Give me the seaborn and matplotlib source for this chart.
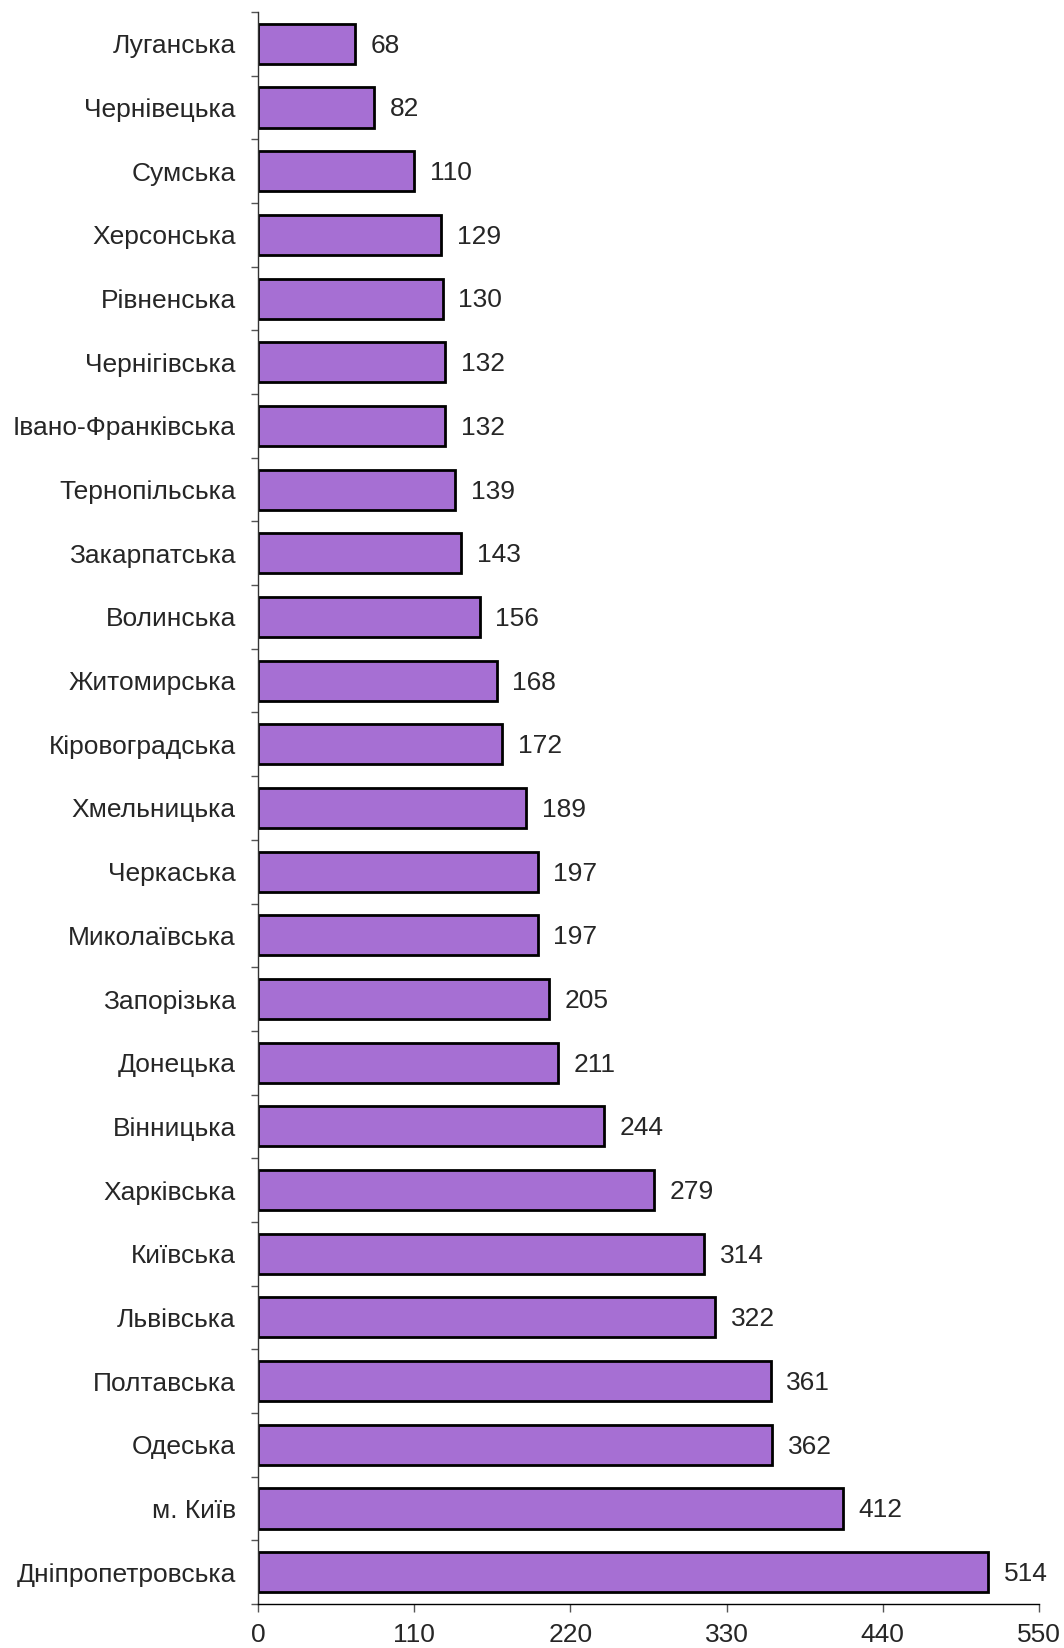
import matplotlib
matplotlib.use("Agg")
import matplotlib.pyplot as plt
from matplotlib.ticker import FixedLocator
import seaborn as sns

# дані (зверху вниз)
regions = [
    "Луганська", "Чернівецька", "Сумська", "Херсонська", "Рівненська",
    "Чернігівська", "Івано-Франківська", "Тернопільська", "Закарпатська",
    "Волинська", "Житомирська", "Кіровоградська", "Хмельницька", "Черкаська",
    "Миколаївська", "Запорізька", "Донецька", "Вінницька", "Харківська",
    "Київська", "Львівська", "Полтавська", "Одеська", "м. Київ",
    "Дніпропетровська",
]
values = [68, 82, 110, 129, 130, 132, 132, 139, 143, 156, 168, 172, 189,
          197, 197, 205, 211, 244, 279, 314, 322, 361, 362, 412, 514]
x_ticks = [0, 110, 220, 330, 440, 550]

sns.set_style("white")
plt.rcParams['font.family'] = ['Liberation Sans', 'DejaVu Sans']

W, H = 1064, 1648
fig, ax = plt.subplots(figsize=(W / 100, H / 100), dpi=100)
fig.subplots_adjust(left=258 / W, right=1039 / W, top=1 - 12 / H, bottom=1 - 1604 / H)

sns.barplot(x=values, y=regions, orient='h', color='#A66FD3', saturation=1,
            edgecolor='black', linewidth=2.0, width=0.63, ax=ax)

# підписи значень
for i, v in enumerate(values):
    ax.text(v + 11, i + 0.03, str(v), va='center', ha='left', fontsize=19)

ax.set_xlim(0, 550)
ax.set_ylim(len(regions) - 0.5, -0.5)
ax.set_xticks(x_ticks)
ax.set_xticklabels([str(t) for t in x_ticks], fontsize=19)
ax.tick_params(axis='y', which='major', length=0, pad=16, labelsize=19)
ax.yaxis.set_minor_locator(FixedLocator([i - 0.5 for i in range(len(regions) + 1)]))
ax.tick_params(axis='y', which='minor', left=True, length=5, width=1, color='#555555')
ax.tick_params(axis='x', which='major', bottom=True, length=6, width=1, color='#555555', pad=8)

for s in ['top', 'right']:
    ax.spines[s].set_visible(False)
ax.spines['left'].set_color('#333333')
ax.spines['bottom'].set_color('black')
ax.spines['left'].set_linewidth(1)
ax.spines['bottom'].set_linewidth(1)
ax.set_xlabel('')
ax.set_ylabel('')

fig.savefig('out.png', dpi=100)
